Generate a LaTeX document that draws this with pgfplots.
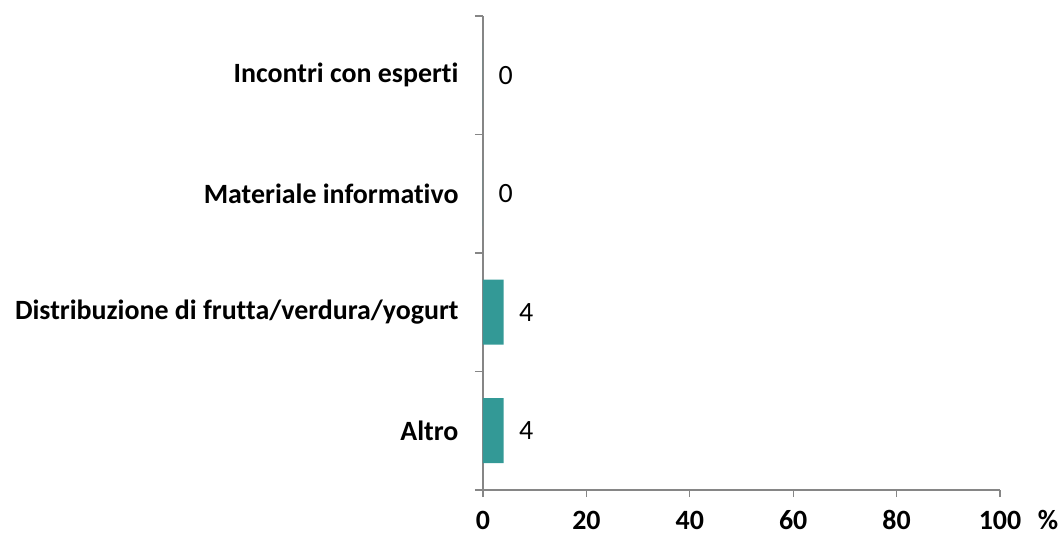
\documentclass[border=0pt]{standalone}
\usepackage{pgfplots}
\pgfplotsset{compat=1.18}
\usepackage{fontspec}
\setmainfont[Ligatures=NoCommon]{Carlito}
\definecolor{barteal}{RGB}{51,153,150}
\definecolor{axgray}{RGB}{134,134,134}
\begin{document}
\begin{tikzpicture}
\begin{axis}[
  scale only axis,
  width=517bp, height=474bp,
  at={(0,0)}, anchor=south west,
  xbar, bar width=65bp,
  xmin=0, xmax=100, ymin=0.5, ymax=4.5,
  axis x line*=bottom, axis y line*=left,
  axis line style={axgray, line width=1.2bp, -},
  xtick={0,20,40,60,80,100},
  ytick={1,2,3,4},
  yticklabels={Altro,Distribuzione di frutta/verdura/yogurt,Materiale informativo,Incontri con esperti},
  minor ytick={0.5,1.5,2.5,3.5,4.5},
  tick align=outside,
  major tick length=7bp,
  minor tick length=8bp,
  y tick style={draw=none},
  minor y tick style={draw=axgray, line width=1.2bp},
  x tick style={axgray, line width=1.2bp},
  xticklabel style={font=\fontsize{28}{32}\selectfont\bfseries, inner sep=0pt, anchor=base, yshift=-32bp},
  yticklabel style={font=\fontsize{28}{32}\selectfont\bfseries, xshift=-14bp},
  /pgf/number format/assume math mode=true,
  nodes near coords,
  every node near coord/.append style={font=\fontsize{28}{32}\selectfont, xshift=12bp, text=black},
  clip=false,
]
\addplot[fill=barteal, draw=none] coordinates {(4,1) (4,2) (0,3) (0,4)};
\node[font=\fontsize{28}{32}\selectfont\bfseries, inner sep=0pt, anchor=base] at ([xshift=48bp, yshift=-39bp]axis cs:100,0.5) {\%};
\end{axis}
\pgfresetboundingbox
\path (-483bp,-44bp) rectangle (578bp,490bp);
\end{tikzpicture}
\end{document}
